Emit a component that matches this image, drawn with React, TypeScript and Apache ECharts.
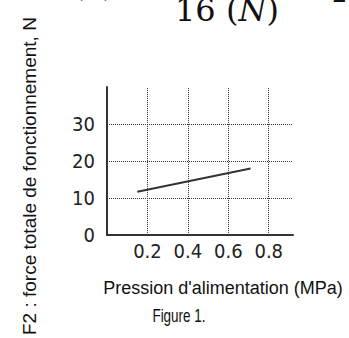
import React, { useEffect, useRef } from "react";
import * as echarts from "echarts";

const lineData: [number, number][] = [
  [0.15, 11.7],
  [0.71, 18.0],
];
const xGridValues = [0.2, 0.4, 0.6, 0.8];
const yGridValues = [10, 20, 30];
const xAxisTitle = "Pression d'alimentation (MPa)";
const yAxisTitle = "F2 : force totale de fonctionnement, N";
const figureCaption = "Figure 1.";

export default function App() {
  const ref = useRef<HTMLDivElement>(null);
  useEffect(() => {
    if (!ref.current) return;
    const chart = echarts.init(ref.current, null, { renderer: "svg" });
    const tickFont = "'DejaVu Sans Condensed', 'Liberation Sans Narrow', 'DejaVu Sans Mono', monospace";
    const gridLine = { color: "#333", width: 1, type: "dotted" as const };
    chart.setOption({
      animation: false,
      backgroundColor: "#fff",
      grid: { left: 107, right: 56, top: 87, bottom: 101, containLabel: false },
      xAxis: {
        type: "value",
        min: 0,
        max: 0.92,
        interval: 0.2,
        name: xAxisTitle,
        nameLocation: "middle",
        nameGap: 44,
        nameTextStyle: {
          fontFamily: "'Liberation Sans', Arial, sans-serif",
          fontSize: 18,
          color: "#111",
          padding: [0, 0, 0, 46],
        },
        axisLine: { show: true, lineStyle: { color: "#333", width: 2 } },
        axisTick: { show: false },
        splitLine: { show: false },
        axisLabel: {
          showMinLabel: false,
          showMaxLabel: false,
          margin: 6,
          fontFamily: tickFont,
          fontSize: 20,
          color: "#222",
          formatter: (v: number) => v.toFixed(1),
        },
      },
      yAxis: {
        type: "value",
        min: 0,
        max: 40,
        interval: 10,
        name: yAxisTitle,
        nameLocation: "middle",
        nameGap: 68,
        nameTextStyle: {
          fontFamily: "'Liberation Sans', Arial, sans-serif",
          fontSize: 19,
          color: "#111",
          padding: [0, 30, 0, 0],
        },
        axisLine: { show: true, lineStyle: { color: "#333", width: 2 } },
        axisTick: { show: false },
        splitLine: { show: false },
        axisLabel: {
          showMaxLabel: false,
          margin: 12,
          padding: [6, 0, 0, 0],
          fontFamily: tickFont,
          fontSize: 20,
          color: "#222",
        },
      },
      series: [
        {
          type: "line",
          data: lineData,
          showSymbol: false,
          lineStyle: { color: "#333", width: 2 },
          z: 3,
          markLine: {
            silent: true,
            symbol: "none",
            label: { show: false },
            lineStyle: gridLine,
            data: [
              ...xGridValues.map((v) => ({ xAxis: v })),
              ...yGridValues.map((v) => ({ yAxis: v })),
            ],
          },
        },
      ],
      graphic: [
        {
          type: "text",
          left: 175,
          top: -6,
          style: {
            text: "16 ({N|N})",
            font: "32px 'DejaVu Serif', serif",
            fill: "#111",
            rich: { N: { fontStyle: "italic", fontFamily: "'DejaVu Serif', serif", fontSize: 32 } },
          },
        },
        {
          type: "text",
          left: 72,
          top: -31,
          style: { text: "(x)", font: "32px 'DejaVu Serif', serif", fill: "#111" },
        },
        {
          type: "text",
          left: 332,
          top: -18,
          style: { text: "2", font: "24px 'DejaVu Serif', serif", fill: "#111" },
        },
        {
          type: "text",
          x: 179,
          y: 316,
          scaleX: 0.75,
          style: {
            text: figureCaption,
            font: "18px 'Liberation Sans', Arial, sans-serif",
            fill: "#111",
            align: "center",
            verticalAlign: "middle",
          },
        },
      ],
    });
    return () => chart.dispose();
  }, []);
  return (
    <div
      ref={ref}
      style={{ position: "fixed", left: 0, top: 0, width: 349, height: 338, background: "#fff" }}
    />
  );
}
